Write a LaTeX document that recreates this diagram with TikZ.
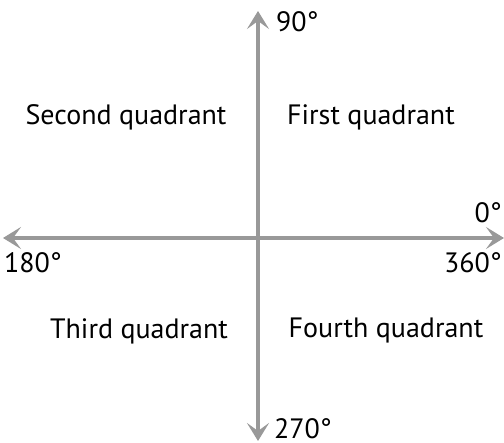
\documentclass[tikz,border=0pt]{standalone}
\usepackage{fontspec}
\setmainfont{PT Sans}
\usetikzlibrary{arrows.meta}
\definecolor{axisgray}{HTML}{999999}
\tikzset{
  tip/.tip={Stealth[length=18pt,width=22pt,inset=8pt]},
  axis/.style={draw=axisgray, line width=3.6pt, tip-tip},
  lbl/.style={font=\fontsize{28}{32}\selectfont, inner sep=0pt, text=black}
}
\begin{document}
\begin{tikzpicture}[x=1pt,y=-1pt]
\useasboundingbox (0,0) rectangle (504,443);
\coordinate (top) at (258,11);
\coordinate (bot) at (258,441);
\coordinate (left) at (3,238);
\coordinate (right) at (504,238);
\draw[axis] (bot) -- (top);
\draw[axis] (left) -- (right);
\node[lbl, anchor=west] (n90) at (276,22) {90°};
\node[lbl, anchor=east] (n0) at (502,213) {0°};
\node[lbl, anchor=west] (n180) at (4,263) {180°};
\node[lbl, anchor=east] (n360) at (502,263) {360°};
\node[lbl, anchor=west] (n270) at (274,429) {270°};
\node[lbl] (q2) at (126,117) {Second quadrant};
\node[lbl] (q1) at (371,117) {First quadrant};
\node[lbl] (q3) at (139,331) {Third quadrant};
\node[lbl] (q4) at (386,331) {Fourth quadrant};
\end{tikzpicture}
\end{document}
